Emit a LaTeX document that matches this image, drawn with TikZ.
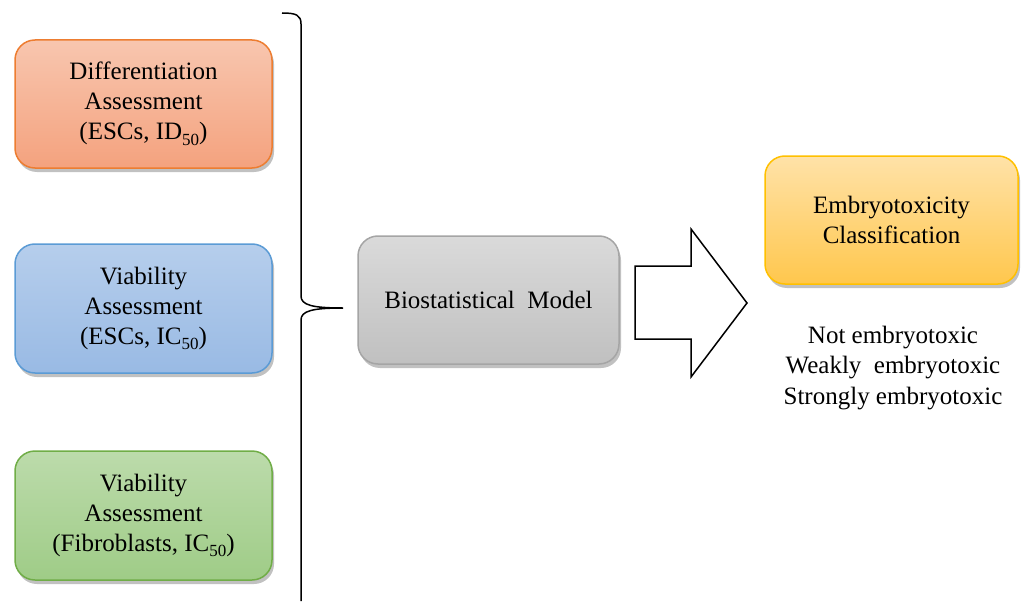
\documentclass[tikz,border=0pt]{standalone}
\usepackage{fontspec}
\setmainfont{LiberationSerif}[Extension=.ttf, UprightFont=*-Regular, BoldFont=*-Bold]
\usetikzlibrary{shadows}
\definecolor{orT}{HTML}{F8C6AF}
\definecolor{orB}{HTML}{F4A27E}
\definecolor{orD}{HTML}{ED7D31}
\definecolor{blT}{HTML}{B6CEEC}
\definecolor{blB}{HTML}{99BAE4}
\definecolor{blD}{HTML}{5B9BD5}
\definecolor{grT}{HTML}{BCDBAB}
\definecolor{grB}{HTML}{9FCC87}
\definecolor{grD}{HTML}{70AD47}
\definecolor{gyT}{HTML}{DADADA}
\definecolor{gyB}{HTML}{C0C0C0}
\definecolor{gyD}{HTML}{A5A5A5}
\definecolor{yeT}{HTML}{FFE2A8}
\definecolor{yeB}{HTML}{FFC74D}
\definecolor{yeD}{HTML}{FFC000}
\newcommand{\subn}[1]{\raisebox{-0.22em}{\fontsize{17}{17}\selectfont #1}}
\tikzset{
  box/.style={rounded corners=20pt, line width=1.5pt, align=center,
    font=\fontsize{25}{30}\selectfont,
    drop shadow={shadow xshift=2pt, shadow yshift=-4pt, opacity=0.35, fill=black!70}},
  orbox/.style={box, draw=orD, top color=orT, bottom color=orB, minimum width=257pt, minimum height=128pt},
  blbox/.style={box, draw=blD, top color=blT, bottom color=blB, minimum width=257pt, minimum height=129pt},
  grbox/.style={box, draw=grD, top color=grT, bottom color=grB, minimum width=257pt, minimum height=129pt},
  gybox/.style={box, draw=gyD, top color=gyT, bottom color=gyB, minimum width=261pt, minimum height=128pt},
  yebox/.style={box, draw=yeD, top color=yeT, bottom color=yeB, minimum width=253pt, minimum height=128pt},
  plain/.style={align=center, font=\fontsize{25}{30.5}\selectfont},
  outline/.style={draw=black, line width=1.5pt}
}
\begin{document}
\begin{tikzpicture}[x=1pt,y=-1pt]
\useasboundingbox (0,0) rectangle (1021,602);
\node[orbox] (diff) at (143.5,104) {Differentiation\\Assessment\\(ESCs, ID\subn{50})};
\node[blbox] (viab) at (143.5,308.5) {Viability\\Assessment\\(ESCs, IC\subn{50})};
\node[grbox] (fibr) at (143.5,515.5) {Viability\\Assessment\\(Fibroblasts, IC\subn{50})};
\node[gybox] (model) at (488.5,300) {Biostatistical\ \ Model};
\node[yebox] (clas) at (891.5,220) {Embryotoxicity\\Classification};
\node[plain] (cats) at (893,368) {Not embryotoxic\\Weakly\ \ embryotoxic\\Strongly embryotoxic};
% brace
\coordinate (btop) at (282,13);
\coordinate (btip) at (343,308);
\coordinate (bbot) at (301,601);
\draw[outline] (btop) .. controls (296,13) and (301,15) .. (301,24)
  -- (301,296) .. controls (301,305) and (312,308) .. (btip)
  .. controls (312,308) and (301,311) .. (301,320) -- (bbot);
% block arrow
\coordinate (a1) at (635,266);
\coordinate (a2) at (691,266);
\coordinate (a3) at (691,229);
\coordinate (a4) at (747,303);
\coordinate (a5) at (691,377);
\coordinate (a6) at (691,339);
\coordinate (a7) at (635,339);
\draw[outline, line join=miter] (a1) -- (a2) -- (a3) -- (a4) -- (a5) -- (a6) -- (a7) -- cycle;
\end{tikzpicture}
\end{document}
